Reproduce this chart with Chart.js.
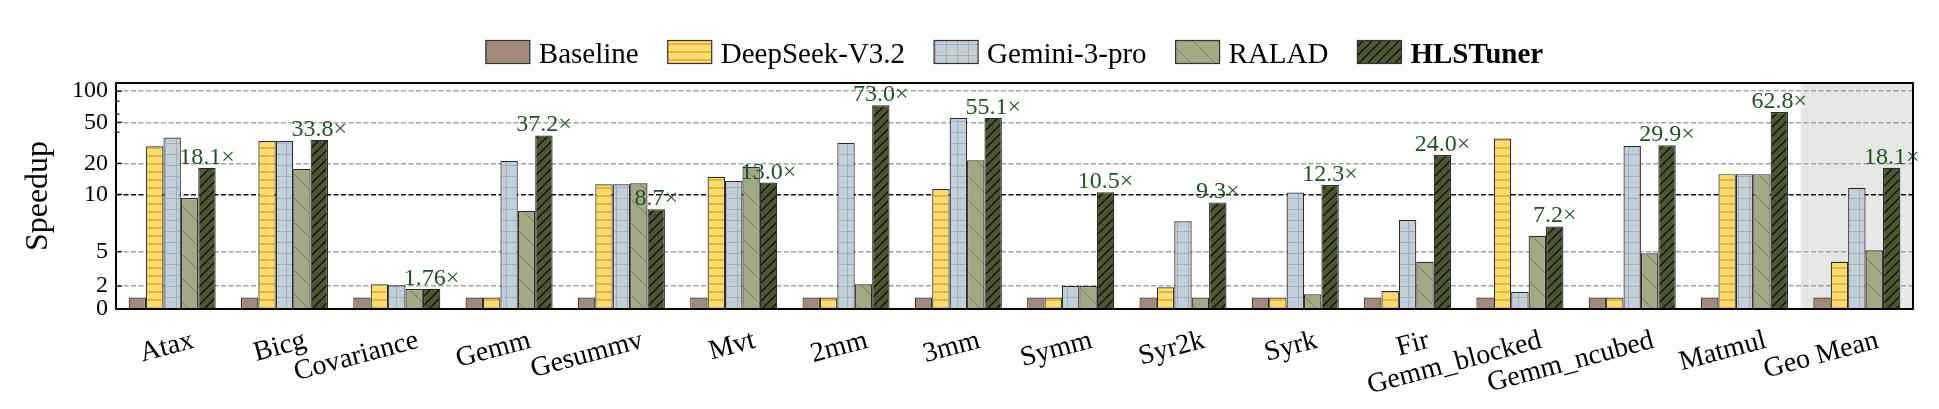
<!DOCTYPE html>
<html>
<head>
<meta charset="utf-8">
<script src="https://cdn.jsdelivr.net/npm/chart.js@4.4.1/dist/chart.umd.min.js"></script>
<style>
  html, body { margin: 0; padding: 0; background: #fff; }
  #wrap { width: 1939px; height: 409px; position: relative; }
</style>
</head>
<body>
<div id="wrap"><canvas id="speedupChart"></canvas></div>
<script>
var categories = ['Atax', 'Bicg', 'Covariance', 'Gemm', 'Gesummv', 'Mvt', '2mm', '3mm', 'Symm',
  'Syr2k', 'Syrk', 'Fir', 'Gemm_blocked', 'Gemm_ncubed', 'Matmul', 'Geo Mean'];
var seriesNames = ['Baseline', 'DeepSeek-V3.2', 'Gemini-3-pro', 'RALAD', 'HLSTuner'];

var baselineValues = [1, 1, 1, 1, 1, 1, 1, 1, 1, 1, 1, 1, 1, 1, 1, 1];
var deepseekValues = [29.3, 32.9, 2.15, 1.0, 12.5, 14.8, 1.0, 11.3, 1.0, 1.89, 1.0, 1.57, 34.7, 1.0, 15.7, 4.12];
var geminiValues = [35.5, 32.9, 2.07, 21.1, 12.5, 13.5, 31.5, 54.9, 2.0, 7.65, 10.4, 7.76, 1.51, 29.4, 15.7, 11.6];
var raladValues = [9.68, 17.7, 1.74, 8.57, 12.8, 18.5, 2.15, 21.4, 2.0, 1.0, 1.28, 4.12, 6.39, 4.86, 15.7, 5.12];
var hlsValues = [18.1, 33.8, 1.76, 37.2, 8.7, 13.0, 73.0, 55.1, 10.5, 9.3, 12.3, 24.0, 7.2, 29.9, 62.8, 18.1];

var yTicks = [0, 2, 5, 10, 20, 50, 100];
var yMinorTicks = [40, 60, 80];
var yMin = 0, yMax = 120;

var SERIF = "'Liberation Serif', 'Times New Roman', serif";

// symlog like matplotlib (linthresh 10, linscale 1)
var LINTHRESH = 10;
var LINSCALE = 1 / (1 - 1 / 10);
function symlog(v) {
  if (v <= LINTHRESH) return v / LINTHRESH * LINSCALE;
  return LINSCALE + Math.log10(v / LINTHRESH);
}
function symlogInv(t) {
  if (t <= LINSCALE) return t / LINSCALE * LINTHRESH;
  return LINTHRESH * Math.pow(10, t - LINSCALE);
}

class SymlogScale extends Chart.LinearScale {
  determineDataLimits() {
    this.min = this.options.min;
    this.max = this.options.max;
  }
  buildTicks() {
    return yTicks.map(function(v) { return {value: v}; });
  }
  getPixelForValue(value) {
    var a = symlog(this.min), b = symlog(this.max);
    return this.getPixelForDecimal((symlog(value) - a) / (b - a));
  }
  getValueForPixel(pixel) {
    var a = symlog(this.min), b = symlog(this.max);
    return symlogInv(a + this.getDecimalForPixel(pixel) * (b - a));
  }
}
SymlogScale.id = 'symlog';
SymlogScale.defaults = {};
Chart.register(SymlogScale);

function makePattern(bg, size, draw) {
  var c = document.createElement('canvas');
  c.width = size; c.height = size;
  var g = c.getContext('2d');
  g.fillStyle = bg;
  g.fillRect(0, 0, size, size);
  draw(g, size);
  return g.createPattern(c, 'repeat');
}

var fills = [
  '#a28a7a',
  makePattern('#f9dd72', 8, function(g, s) {
    g.strokeStyle = '#e9a41e'; g.lineWidth = 1.5;
    g.beginPath(); g.moveTo(0, 4); g.lineTo(s, 4); g.stroke();
  }),
  makePattern('#c3ced7', 11, function(g, s) {
    g.strokeStyle = '#a0afba'; g.lineWidth = 1;
    g.beginPath(); g.moveTo(0.5, 0); g.lineTo(0.5, s); g.moveTo(0, 0.5); g.lineTo(s, 0.5); g.stroke();
  }),
  makePattern('#a2a883', 24, function(g, s) {
    g.strokeStyle = '#7a7f5f'; g.lineWidth = 1;
    g.beginPath(); g.moveTo(-2, -2); g.lineTo(s + 2, s + 2); g.stroke();
  }),
  makePattern('#4b5633', 9, function(g, s) {
    g.strokeStyle = '#0e110a'; g.lineWidth = 1.3;
    g.beginPath();
    g.moveTo(0, s); g.lineTo(s, 0);
    g.moveTo(-s / 2, s / 2); g.lineTo(s / 2, -s / 2);
    g.moveTo(s / 2, s * 1.5); g.lineTo(s * 1.5, s / 2);
    g.stroke();
  })
];

var seriesValues = [baselineValues, deepseekValues, geminiValues, raladValues, hlsValues];

function hlsText(v) {
  return (v < 2 ? v.toFixed(2) : v.toFixed(1)) + '\u00d7';
}

var decorPlugin = {
  id: 'decor',
  beforeDraw: function(chart) {
    var ctx = chart.ctx, a = chart.chartArea, xs = chart.scales.x;
    var n = categories.length;
    var x0 = (xs.getPixelForValue(n - 2) + xs.getPixelForValue(n - 1)) / 2;
    ctx.save();
    ctx.fillStyle = '#e7e7e7';
    ctx.fillRect(x0, a.top, a.right - x0, a.bottom - a.top);
    ctx.restore();
  },
  afterDatasetsDraw: function(chart) {
    var ctx = chart.ctx;
    var meta = chart.getDatasetMeta(4);
    ctx.save();
    ctx.font = '24px ' + SERIF;
    ctx.fillStyle = '#225224';
    ctx.textAlign = 'center';
    ctx.textBaseline = 'alphabetic';
    meta.data.forEach(function(bar, i) {
      ctx.fillText(hlsText(hlsValues[i]), bar.x, bar.y - 4);
    });
    ctx.restore();
  },
  afterDraw: function(chart) {
    var ctx = chart.ctx, a = chart.chartArea, ys = chart.scales.y;
    ctx.save();
    // inward ticks on the left axis
    ctx.strokeStyle = '#000';
    ctx.lineWidth = 1.2;
    yTicks.forEach(function(v) {
      if (v === 0) return;
      var y = ys.getPixelForValue(v);
      ctx.beginPath(); ctx.moveTo(a.left, y); ctx.lineTo(a.left + 6, y); ctx.stroke();
    });
    yMinorTicks.forEach(function(v) {
      var y = ys.getPixelForValue(v);
      ctx.beginPath(); ctx.moveTo(a.left, y); ctx.lineTo(a.left + 3.5, y); ctx.stroke();
    });
    // frame
    ctx.lineWidth = 2;
    ctx.strokeRect(a.left, a.top, a.right - a.left, a.bottom - a.top);

    // legend
    var boxW = 44, boxH = 23, gap = 9, itemGap = 29;
    var widths = seriesNames.map(function(name, i) {
      ctx.font = (i === 4 ? 'bold ' : '') + '29px ' + SERIF;
      return ctx.measureText(name).width;
    });
    var total = 0;
    widths.forEach(function(w) { total += boxW + gap + w; });
    total += itemGap * (seriesNames.length - 1);
    var x = (a.left + a.right) / 2 - total / 2;
    var cy = 52;
    seriesNames.forEach(function(name, i) {
      ctx.fillStyle = fills[i];
      ctx.fillRect(x, cy - boxH / 2, boxW, boxH);
      ctx.strokeStyle = '#333';
      ctx.lineWidth = 1.2;
      ctx.strokeRect(x, cy - boxH / 2, boxW, boxH);
      ctx.fillStyle = '#000';
      ctx.font = (i === 4 ? 'bold ' : '') + '29px ' + SERIF;
      ctx.textAlign = 'left';
      ctx.textBaseline = 'alphabetic';
      ctx.fillText(name, x + boxW + gap, cy + 11);
      x += boxW + gap + widths[i] + itemGap;
    });
    ctx.restore();
  }
};

new Chart('speedupChart', {
  type: 'bar',
  data: {
    labels: categories,
    datasets: seriesNames.map(function(name, i) {
      return {
        label: name,
        data: seriesValues[i],
        backgroundColor: fills[i],
        borderColor: '#2b2b2b',
        borderWidth: 1.2,
        barPercentage: 1.0,
        categoryPercentage: 0.775
      };
    })
  },
  options: {
    responsive: true,
    maintainAspectRatio: false,
    animation: false,
    layout: {padding: {top: 83, right: 26, bottom: 0, left: 0}},
    plugins: {
      legend: {display: false},
      tooltip: {enabled: false}
    },
    scales: {
      x: {
        grid: {display: false, drawTicks: false},
        border: {display: false},
        ticks: {
          autoSkip: false,
          minRotation: 15,
          maxRotation: 15,
          labelOffset: 21,
          padding: 15,
          color: '#000',
          font: {family: SERIF, size: 28}
        },
        afterFit: function(scale) { scale.height = 100; }
      },
      y: {
        type: 'symlog',
        min: yMin,
        max: yMax,
        grid: {
          drawTicks: false,
          lineWidth: 1.4,
          color: function(c) {
            if (!c.tick || c.tick.value === 0) return 'rgba(0,0,0,0)';
            return c.tick.value === 10 ? '#111' : '#a4a4a4';
          }
        },
        border: {display: false, dash: [5, 2.5]},
        ticks: {
          autoSkip: false,
          padding: 8,
          color: '#000',
          font: {family: SERIF, size: 24},
          callback: function(v) { return String(v); }
        },
        title: {
          display: true,
          text: 'Speedup',
          color: '#000',
          font: {family: SERIF, size: 32},
          padding: {top: 19, bottom: 0}
        },
        afterFit: function(scale) { scale.width = 116; }
      }
    }
  },
  plugins: [decorPlugin]
});
</script>
</body>
</html>
